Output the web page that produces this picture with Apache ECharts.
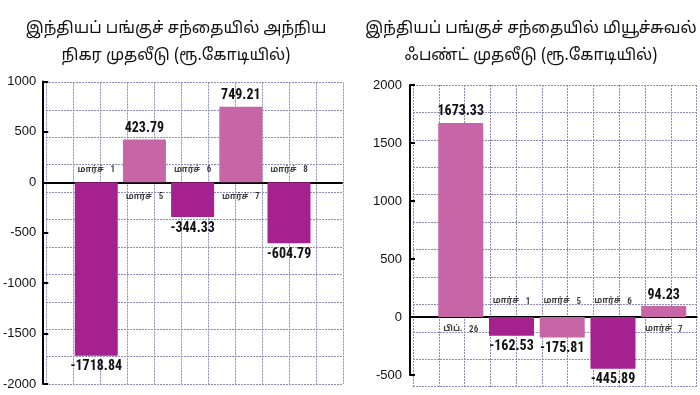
<!DOCTYPE html>
<html>
<head>
<meta charset="utf-8">
<script src="https://cdn.jsdelivr.net/npm/echarts@6/dist/echarts.min.js"></script>
<style>
html,body{margin:0;padding:0;background:#fff;}
#c{width:700px;height:395px;}
</style>
</head>
<body>
<div id="c"></div>
<script>
// ---- data ----
const leftTitle = 'இந்தியப் பங்குச் சந்தையில் அந்நிய\nநிகர முதலீடு (ரூ.கோடியில்)';
const rightTitle = 'இந்தியப் பங்குச் சந்தையில் மியூச்சுவல்\nஃபண்ட் முதலீடு (ரூ.கோடியில்)';
const leftCatWords = ['மார்ச்', 'மார்ச்', 'மார்ச்', 'மார்ச்', 'மார்ச்'];
const leftCatNums = ['1', '5', '6', '7', '8'];
const leftValues = [-1718.84, 423.79, -344.33, 749.21, -604.79];
const rightCatWords = ['பிப்.', 'மார்ச்', 'மார்ச்', 'மார்ச்', 'மார்ச்'];
const rightCatNums = ['26', '1', '5', '6', '7'];
const rightValues = [1673.33, -162.53, -175.81, -445.89, 94.23];
const leftYAxis = {min: -2000, max: 1000, interval: 500};
const rightYAxis = {min: -500, max: 2000, interval: 500};

const DARK = '#a4218f';
const LIGHT = '#c666a7';
const TAMIL = "'Noto Sans Tamil','Lohit Tamil','Noto Sans','Liberation Sans',sans-serif";
const NARROW = "'Liberation Sans Narrow','Roboto Condensed','DejaVu Sans Condensed',sans-serif";

function barData(vals, startDark) {
  return vals.map((v, i) => {
    const dark = (i % 2 === 0) === startDark;
    return {
      value: [i, v],
      itemStyle: {color: dark ? DARK : LIGHT},
      label: {position: v >= 0 ? 'top' : 'bottom'}
    };
  });
}
function catData(words, nums, vals, upDist, downDist) {
  return words.map((w, i) => ({
    value: [i, 0],
    name: w + ' ' + nums[i],
    label: {
      position: vals[i] >= 0 ? 'bottom' : 'top',
      distance: vals[i] >= 0 ? downDist : upDist,
      formatter: '{t|' + w + '}  {n|' + nums[i] + '}'
    }
  }));
}
const catRich = {
  t: {fontFamily: TAMIL, fontSize: 8.5, fontWeight: 'bold', color: '#111'},
  n: {fontFamily: NARROW, fontSize: 9, fontWeight: 'bold', color: '#111'}
};
const gridLine = {show: true, lineStyle: {color: '#8c8cbc', width: 1, type: [2, 1]}};
function bgAxis(idx) {
  return {
    type: 'value', gridIndex: idx, min: 0, max: 11, interval: 1,
    axisLine: {show: false}, axisTick: {show: false}, axisLabel: {show: false},
    splitLine: gridLine
  };
}
function realY(idx, cfg, margin) {
  return {
    type: 'value', gridIndex: idx, min: cfg.min, max: cfg.max, interval: cfg.interval,
    axisLine: {show: true, onZero: false, lineStyle: {color: '#000', width: 2}},
    axisTick: {show: true, inside: true, length: 5, lineStyle: {color: '#000', width: 2}},
    axisLabel: {color: '#111', fontSize: 13, fontFamily: "'Liberation Sans',Arial,sans-serif", margin: margin,
                formatter: v => String(v)},
    splitLine: {show: false}
  };
}
function realX(idx, min, max) {
  return {
    type: 'value', gridIndex: idx, min: min, max: max,
    axisLine: {show: true, onZero: true, lineStyle: {color: '#000', width: 2}},
    axisTick: {show: false}, axisLabel: {show: false}, splitLine: {show: false}
  };
}

const chart = echarts.init(document.getElementById('c'));
chart.setOption({
  backgroundColor: '#fff',
  animation: false,
  title: [
    {text: leftTitle, left: 171, top: 12, textAlign: 'center',
     textStyle: {fontFamily: TAMIL, fontSize: 16, fontWeight: 'normal', color: '#111', lineHeight: 26.5}},
    {text: rightTitle, left: 526, top: 12, textAlign: 'center',
     textStyle: {fontFamily: TAMIL, fontSize: 16, fontWeight: 'normal', color: '#111', lineHeight: 26.5}}
  ],
  grid: [
    {left: 46, right: 357, top: 82.5, bottom: 11},          // left background grid
    {left: 40, right: 358, top: 81.5, bottom: 11},          // left data grid
    {left: 413, right: 3.3, top: 85, bottom: 8.3},          // right background grid
    {left: 410, right: 3.3, top: 85, bottom: 20}            // right data grid
  ],
  xAxis: [bgAxis(0), realX(1, -1.1, 5.1), bgAxis(2), realX(3, -1, 4.65)],
  yAxis: [bgAxis(0), realY(1, leftYAxis, 7), bgAxis(2), realY(3, rightYAxis, 8)],
  series: [
    {type: 'line', xAxisIndex: 0, yAxisIndex: 0, data: []},
    {type: 'line', xAxisIndex: 2, yAxisIndex: 2, data: []},
    {
      type: 'bar', xAxisIndex: 1, yAxisIndex: 1, barWidth: 43,
      data: barData(leftValues, true),
      label: {show: true, distance: 4, fontFamily: NARROW, fontWeight: 'bold', fontSize: 14, color: '#111',
              formatter: p => p.value[1].toFixed(2)}
    },
    {
      type: 'scatter', xAxisIndex: 1, yAxisIndex: 1, symbolSize: 1,
      itemStyle: {color: 'rgba(0,0,0,0)'},
      data: catData(leftCatWords, leftCatNums, leftValues, 6, 8),
      label: {show: true, rich: catRich}
    },
    {
      type: 'bar', xAxisIndex: 3, yAxisIndex: 3, barWidth: 45,
      data: barData(rightValues, false),
      label: {show: true, distance: 4, fontFamily: NARROW, fontWeight: 'bold', fontSize: 14, color: '#111',
              formatter: p => p.value[1].toFixed(2)}
    },
    {
      type: 'scatter', xAxisIndex: 3, yAxisIndex: 3, symbolSize: 1,
      itemStyle: {color: 'rgba(0,0,0,0)'},
      data: catData(rightCatWords, rightCatNums, rightValues, 9, 6),
      label: {show: true, rich: catRich}
    }
  ]
});
</script>
</body>
</html>
